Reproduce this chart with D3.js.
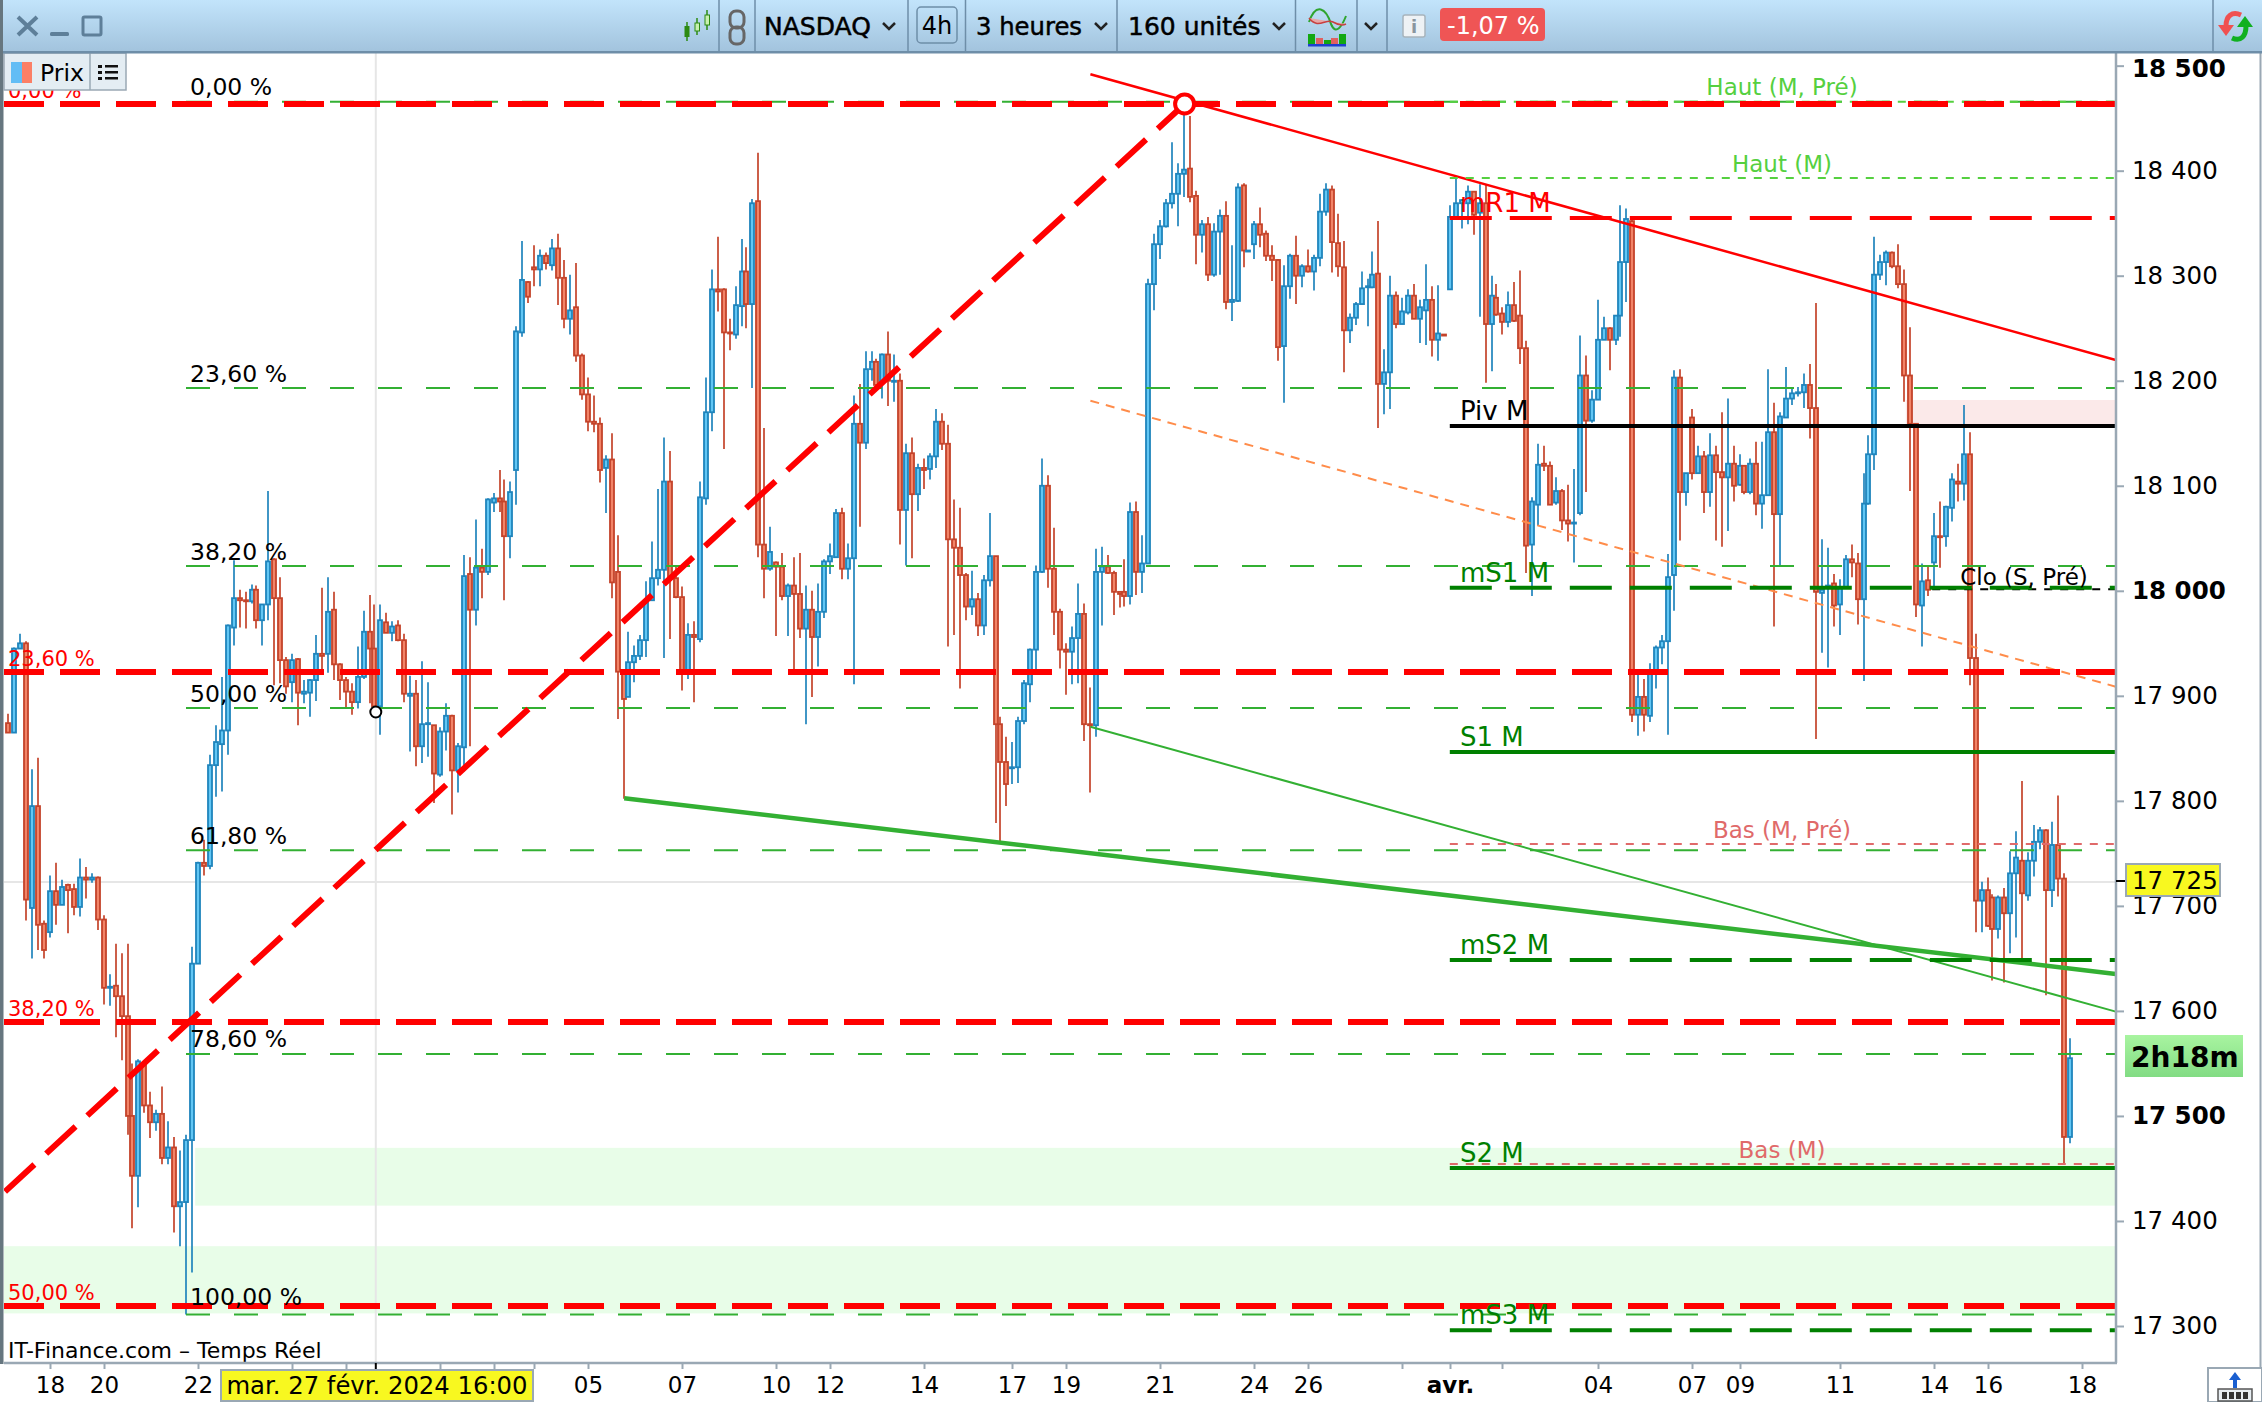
<!DOCTYPE html>
<html>
<head>
<meta charset="utf-8">
<title>NASDAQ 3 heures</title>
<script src="https://cdn.jsdelivr.net/npm/d3@7"></script>
<style>
  html, body { margin: 0; padding: 0; background: #fff; overflow: hidden; }
  svg { display: block; }
  text { font-family: "DejaVu Sans", sans-serif; }
</style>
</head>
<body>
<div id="chart"></div>
<script>
// candles (index points)
const opens = [
  17874,17865,17945,17950,17698,17795,17683,17675,17714,17701,
  17720,17716,17699,17727,17725,17727,17687,17622,17624,17614,
  17595,17500,17443,17550,17510,17494,17502,17460,17470,17414,
  17418,17477,17645,17741,17738,17834,17854,17867,17965,17993,
  17991,17990,18001,17972,17987,18030,17993,17934,17913,17935,
  17902,17903,17915,17940,17940,17982,17930,17915,17904,17894,
  17918,17961,17945,17890,17970,17960,17967,17953,17900,17902,
  17852,17873,17872,17825,17866,17881,17829,17851,18016,17982,
  18022,18018,18084,18088,18085,18052,18115,18246,18294,18308,
  18306,18319,18310,18326,18298,18259,18270,18224,18187,18161,
  18159,18117,18125,18018,17923,17899,17932,17938,17953,17991,
  18012,18020,18104,18012,17994,17923,17958,17954,18088,18170,
  18287,18287,18246,18244,18271,18304,18273,18371,18044,18021,
  18027,18023,17995,18005,17997,17964,17982,17956,17980,18028,
  18032,18074,18021,18031,18159,18141,18211,18218,18198,18225,
  18199,18200,18077,18131,18092,18117,18116,18128,18161,18140,
  18049,18041,18015,17985,17992,17967,18010,18033,17873,17837,
  17831,17832,17876,17911,17944,18018,18100,18021,17980,17944,
  17942,17955,17978,17873,17872,18018,18023,18017,17999,17999,
  17995,18075,18018,18026,18292,18330,18347,18369,18378,18397,
  18402,18376,18339,18349,18301,18342,18357,18275,18276,18386,
  18323,18330,18349,18340,18319,18315,18233,18290,18319,18300,
  18309,18304,18317,18361,18382,18331,18308,18248,18260,18273,
  18289,18289,18302,18197,18208,18281,18254,18265,18281,18259,
  18267,18277,18239,18244,18287,18356,18369,18369,18380,18360,
  18369,18254,18279,18264,18256,18272,18262,18231,18044,18082,
  18121,18119,18084,18095,18067,18064,18074,18205,18162,18182,
  18239,18250,18239,18262,18313,18352,17882,17899,17881,17922,
  17946,17952,18015,18203,18094,18165,18112,18128,18094,18129,
  18113,18108,18121,18101,18119,18094,18121,18083,18091,18151,
  18073,18165,18183,18188,18189,18196,18174,17998,18004,18007,
  17987,18003,18030,18026,17992,18083,18130,18301,18313,18322,
  18309,18292,18205,18159,17986,18010,18027,18052,18052,18079,
  18104,18102,18130,17936,17705,17715,17708,17678,17708,17693,
  17731,17743,17710,17743,17761,17772,17715,17758,17726,17480
];
const closes = [
  17865,17945,17950,17706,17795,17682,17658,17714,17701,17718,
  17715,17699,17727,17725,17727,17687,17622,17623,17614,17595,
  17500,17443,17552,17510,17494,17502,17460,17470,17414,17418,
  17477,17645,17741,17738,17834,17856,17867,17967,17993,17991,
  17990,18001,17972,17987,18028,17993,17934,17909,17934,17903,
  17904,17915,17940,17938,17980,17930,17915,17904,17894,17918,
  17961,17945,17890,17972,17960,17966,17953,17902,17902,17852,
  17873,17874,17826,17866,17881,17829,17852,18014,17982,18022,
  18018,18087,18088,18085,18052,18094,18247,18296,18280,18306,
  18319,18312,18326,18298,18259,18267,18224,18187,18161,18159,
  18115,18125,18008,17923,17897,17932,17938,17953,17991,18012,
  18020,18104,18012,17994,17923,17958,17956,18089,18170,18287,
  18285,18246,18245,18272,18304,18273,18369,18044,18021,18037,
  18023,17995,18005,17997,17964,17982,17956,17980,18028,18033,
  18074,18021,18031,18159,18141,18211,18218,18196,18225,18200,
  18200,18077,18131,18092,18117,18115,18128,18161,18140,18049,
  18041,18015,17985,17992,17967,18010,18033,17873,17837,17816,
  17832,17876,17912,17944,18018,18100,18021,17980,17944,17942,
  17955,17978,17873,17872,18018,18023,18017,17999,17997,17995,
  18075,18018,18026,18292,18330,18347,18369,18378,18397,18401,
  18375,18339,18349,18301,18342,18357,18275,18277,18384,18324,
  18324,18349,18339,18319,18315,18232,18290,18319,18300,18309,
  18304,18317,18361,18382,18332,18309,18248,18260,18273,18288,
  18290,18301,18197,18208,18281,18254,18266,18281,18259,18270,
  18277,18239,18245,18243,18356,18369,18372,18380,18358,18369,
  18254,18281,18263,18256,18272,18257,18231,18043,18085,18120,
  18119,18082,18095,18067,18064,18065,18205,18162,18182,18239,
  18250,18239,18262,18313,18354,17882,17899,17882,17922,17946,
  17952,18013,18203,18094,18112,18112,18128,18094,18129,18113,
  18108,18121,18100,18119,18094,18121,18083,18091,18151,18073,
  18166,18183,18188,18189,18196,18174,17999,18001,18005,17986,
  18003,18030,18027,17992,18083,18130,18301,18313,18322,18309,
  18292,18205,18159,17987,18009,18001,18052,18051,18080,18106,
  18102,18130,17936,17705,17715,17681,17678,17708,17693,17731,
  17746,17712,17743,17761,17772,17715,17758,17726,17480,17555
];
const highs = [
  17883,17946,17959,17952,17830,17841,17686,17729,17741,17725,
  17721,17721,17745,17737,17731,17728,17691,17635,17664,17655,
  17664,17550,17554,17552,17523,17506,17528,17495,17480,17467,
  17482,17661,17742,17763,17844,17872,17918,17968,18029,18001,
  17999,18006,18005,17987,18095,18031,18013,17937,17940,17936,
  17915,17916,17958,18003,18013,17999,17931,17918,17912,17947,
  17981,17996,17987,17987,17979,17971,17972,17959,17919,17915,
  17933,17913,17872,17870,17893,17882,17855,18034,18032,18068,
  18040,18088,18093,18115,18106,18104,18252,18333,18295,18329,
  18325,18322,18335,18340,18315,18301,18312,18226,18203,18186,
  18165,18129,18150,18053,17923,17961,17948,17958,18009,18047,
  18097,18146,18133,18023,18004,17969,17971,18104,18203,18306,
  18337,18288,18259,18290,18335,18327,18373,18417,18155,18061,
  18028,18036,18007,18032,18036,18005,18000,18007,18030,18045,
  18078,18079,18045,18186,18197,18228,18228,18221,18226,18247,
  18225,18207,18140,18146,18121,18126,18131,18173,18169,18158,
  18087,18079,18017,18019,17998,18015,18074,18033,17880,17861,
  17856,17880,17915,17945,18024,18126,18110,18060,17983,17950,
  17966,18007,17988,17908,18040,18042,18034,18019,17999,18030,
  18084,18085,18053,18297,18340,18353,18373,18427,18407,18455,
  18452,18381,18353,18356,18350,18363,18371,18329,18388,18388,
  18324,18352,18365,18343,18329,18316,18310,18321,18338,18311,
  18325,18320,18378,18388,18386,18359,18333,18264,18275,18304,
  18297,18323,18352,18230,18300,18285,18279,18287,18292,18277,
  18311,18290,18291,18244,18367,18393,18373,18386,18380,18387,
  18387,18300,18292,18270,18285,18294,18305,18238,18089,18140,
  18138,18123,18108,18097,18101,18116,18243,18224,18191,18277,
  18261,18251,18262,18367,18364,18354,17921,17916,17931,17948,
  17958,18035,18210,18211,18112,18173,18138,18133,18150,18138,
  18170,18183,18138,18130,18119,18126,18142,18142,18211,18179,
  18170,18213,18194,18194,18207,18216,18274,18049,18041,18016,
  18011,18034,18044,18036,18112,18148,18337,18320,18324,18323,
  18330,18306,18251,18159,18026,18023,18074,18085,18081,18112,
  18121,18177,18151,17959,17723,17727,17711,17710,17717,17752,
  17771,17819,17751,17777,17775,17773,17780,17805,17731,17574
];
const lows = [
  17865,17865,17945,17686,17650,17658,17650,17670,17682,17701,
  17674,17691,17690,17707,17722,17677,17606,17605,17575,17553,
  17482,17393,17413,17503,17479,17486,17454,17454,17389,17376,
  17311,17351,17645,17729,17735,17804,17809,17844,17948,17965,
  17964,17988,17964,17948,17972,17910,17912,17902,17894,17872,
  17893,17880,17895,17921,17922,17915,17896,17888,17882,17888,
  17916,17893,17890,17863,17960,17952,17952,17894,17847,17833,
  17836,17842,17798,17823,17848,17787,17808,17828,17852,17967,
  17993,18015,18075,18075,17991,18031,18082,18242,18274,18290,
  18290,18306,18305,18272,18250,18244,18218,18182,18152,18151,
  18103,18074,17993,17878,17802,17899,17913,17934,17937,17991,
  18005,17936,17954,17993,17905,17916,17894,17951,18082,18152,
  18266,18135,18229,18240,18252,18250,18193,18032,17993,18019,
  17957,17991,17957,17923,17955,17873,17899,17928,17974,18016,
  18032,18011,18011,17911,18061,18135,18200,18195,18183,18176,
  18180,18044,18024,18031,18076,18097,18106,18117,18134,17947,
  17958,17907,17972,17977,17957,17958,18004,17779,17761,17795,
  17816,17817,17873,17894,17925,18017,18003,17958,17926,17901,
  17911,17912,17857,17808,17861,17967,18016,17977,17984,17985,
  17987,17996,17998,18026,18267,18316,18346,18364,18347,18375,
  18370,18311,18322,18295,18299,18301,18268,18257,18275,18308,
  18323,18316,18327,18314,18295,18219,18179,18278,18273,18289,
  18303,18286,18309,18357,18303,18299,18208,18236,18253,18273,
  18252,18288,18155,18168,18173,18250,18254,18263,18259,18236,
  18234,18223,18219,18243,18287,18356,18345,18349,18339,18261,
  18198,18209,18262,18244,18251,18256,18216,18017,17995,18062,
  18114,18082,18082,18058,18047,18027,18072,18094,18160,18182,
  18239,18210,18234,18242,18275,17875,17862,17866,17875,17907,
  17930,17863,17981,18048,18081,18106,18112,18074,18080,18048,
  18042,18057,18085,18100,18092,18092,18072,18059,18091,17966,
  18023,18165,18177,18185,18174,18145,17859,17941,17927,17966,
  17958,18003,18013,17968,17914,18082,18115,18296,18291,18307,
  18288,18180,18095,17975,17947,17995,18003,18022,18042,18066,
  18085,18086,17910,17675,17675,17680,17629,17669,17627,17655,
  17670,17649,17705,17728,17754,17615,17699,17709,17454,17474
];
// candle positions where the time axis closes up a little
const sessionBreaks = [21, 42, 62, 84, 105, 125, 147, 168, 189, 210, 231, 252, 273, 294, 315, 336];

// axis
const priceTicks = [18500, 18400, 18300, 18200, 18100, 18000, 17900, 17800, 17700, 17600, 17500, 17400, 17300];
const dateTickIndex = [7, 16, 32, 48, 57, 73, 82, 89, 98, 114, 130, 139, 155, 170, 179, 195, 211, 220, 236, 244, 253, 269, 285, 293, 310, 326, 335, 351];
const dateTickLabels = ['18', '20', '22', '', '', '', '', '', '05', '07', '10', '12', '14', '17', '19', '21', '24', '26', '', 'avr.', '', '04', '07', '09', '11', '14', '16', '18'];

// fibonacci retracements
const fibGreenLevels = [18465.7, 18193, 18023.6, 17888.4, 17753, 17559, 17311];
const fibGreenLabels = ['0,00 %', '23,60 %', '38,20 %', '50,00 %', '61,80 %', '78,60 %', '100,00 %'];
const fibRedLevels = [18463.5, 17922.7, 17589.4, 17319];
const fibRedLabels = ['0,00 %', '23,60 %', '38,20 %', '50,00 %'];

// monthly pivots
const pivotNames = ['mR1 M', 'Piv M', 'mS1 M', 'S1 M', 'mS2 M', 'S2 M', 'mS3 M'];
const pivotLevels = [18355, 18156.9, 18003, 17846.5, 17648.5, 17450.4, 17296];
const pivotColors = ['#ff0000', '#000000', '#008000', '#008000', '#008000', '#008000', '#008000'];
const pivotDashed = [true, false, true, false, true, false, true];

// high / low of the month
const extremeNames = ['Haut (M, Pré)', 'Haut (M)', 'Bas (M, Pré)', 'Bas (M)'];
const extremeLevels = [18465.7, 18393, 17758.9, 17454.2];
const extremeColors = ['#55d040', '#55d040', '#e06a6a', '#e06a6a'];

// zones: slot range + price range
const greenZones = [[31.2, 351.3, 17469.6, 17414.6], [-0.7, 351.3, 17376, 17312]];
const pinkZone = [316.3, 351.3, 18181.7, 18156.9];

// drawn lines as [slot, price, slot, price]
const fibDiagonal = [-0.5, 17428, 196.1, 18463.5];
const redTrend = [180.4, 18491.8, 351.3, 18219.7];
const orangeTrend = [180.4, 18181, 351.3, 17908.7];
const greenThick = [102.7, 17802.4, 351.3, 17635.2];
const greenThin = [180.4, 17870.6, 351.3, 17599.3];
const closeWeek = [320.7, 18001.4, 351.3, 18001.4];
const lastPrice = 17722.8;
const cursorSlot = 61.3;

const width = 2262, height = 1402;
const plot = { left: 4, right: 2116, top: 53, bottom: 1363 };

function slotOf(i) {
  return i - sessionBreaks.filter(b => b <= i).length / 3;
}

const x = d3.scaleLinear().domain([0, slotOf(349)]).range([8, 2070]);
const y = d3.scaleLinear().domain([18000, 17300]).range([590.8, 1326]);

const svg = d3.select('#chart').append('svg')
  .attr('width', width).attr('height', height);

const defs = svg.append('defs');
const barGrad = defs.append('linearGradient').attr('id', 'bar').attr('x2', 0).attr('y2', 1);
barGrad.append('stop').attr('offset', 0).attr('stop-color', '#c2e4fb');
barGrad.append('stop').attr('offset', 1).attr('stop-color', '#a2c3dd');
const timerGrad = defs.append('linearGradient').attr('id', 'timer').attr('x2', 0).attr('y2', 1);
timerGrad.append('stop').attr('offset', 0).attr('stop-color', '#a8f4a0');
timerGrad.append('stop').attr('offset', 1).attr('stop-color', '#82dc84');
defs.append('clipPath').attr('id', 'plotClip').append('rect')
  .attr('x', plot.left).attr('y', plot.top)
  .attr('width', plot.right - plot.left).attr('height', plot.bottom - plot.top);

const g = svg.append('g').attr('clip-path', 'url(#plotClip)');

// zones
greenZones.forEach(z => {
  g.append('rect').attr('x', x(z[0])).attr('width', x(z[1]) - x(z[0]))
    .attr('y', y(z[2])).attr('height', y(z[3]) - y(z[2])).attr('fill', '#e8fde8');
});
g.append('rect').attr('x', x(pinkZone[0])).attr('width', x(pinkZone[1]) - x(pinkZone[0]))
  .attr('y', y(pinkZone[2])).attr('height', y(pinkZone[3]) - y(pinkZone[2])).attr('fill', '#fbe9e9');

// crosshair
g.append('line').attr('x1', x(cursorSlot)).attr('x2', x(cursorSlot))
  .attr('y1', plot.top).attr('y2', plot.bottom)
  .attr('stroke', '#e6e6e6').attr('stroke-width', 2);
g.append('line').attr('x1', plot.left).attr('x2', plot.right)
  .attr('y1', y(lastPrice)).attr('y2', y(lastPrice))
  .attr('stroke', '#e6e6e6').attr('stroke-width', 2);

// candles
const candles = opens.map((o, i) => ({ i, o, c: closes[i], h: highs[i], l: lows[i] }));
const isUp = d => d.c >= d.o;

g.selectAll('.wick').data(candles).enter().append('line')
  .attr('class', 'wick')
  .attr('x1', d => x(slotOf(d.i))).attr('x2', d => x(slotOf(d.i)))
  .attr('y1', d => y(d.h)).attr('y2', d => y(d.l))
  .attr('stroke', d => isUp(d) ? '#1f84bc' : '#c4432a')
  .attr('stroke-width', 1.7);

g.selectAll('.body').data(candles).enter().append('rect')
  .attr('class', 'body')
  .attr('x', d => x(slotOf(d.i)) - 2)
  .attr('width', 4)
  .attr('y', d => y(Math.max(d.o, d.c)))
  .attr('height', d => Math.abs(y(d.o) - y(d.c)))
  .attr('fill', d => isUp(d) ? '#62c6f4' : '#f28468')
  .attr('stroke', d => isUp(d) ? '#1f84bc' : '#c4432a')
  .attr('stroke-width', 1.8);

// fibonacci, green part
fibGreenLevels.forEach(v => {
  g.append('line').attr('x1', 186).attr('x2', plot.right).attr('y1', y(v)).attr('y2', y(v))
    .attr('stroke', '#33b033').attr('stroke-width', 2).attr('stroke-dasharray', '24 24');
});
svg.selectAll('.fibLabel').data(fibGreenLabels).enter().append('text')
  .attr('x', 190)
  .attr('y', (d, i) => y(fibGreenLevels[i]) - (i === 6 ? 9 : 6.5))
  .attr('font-size', 23.5).attr('fill', '#000').text(d => d);

function drawSegment(seg, color, w, dash) {
  return g.append('line')
    .attr('x1', x(seg[0])).attr('y1', y(seg[1]))
    .attr('x2', x(seg[2])).attr('y2', y(seg[3]))
    .attr('stroke', color).attr('stroke-width', w)
    .attr('stroke-dasharray', dash || null);
}

// trend lines
drawSegment(orangeTrend, '#ff8c4a', 2, '9 7');
drawSegment(redTrend, '#ff0000', 2.5);
drawSegment(greenThick, '#33b033', 4.5);
drawSegment(greenThin, '#33b033', 2);

// month highs and lows
extremeLevels.forEach((v, i) => {
  g.append('line').attr('x1', x(240.3)).attr('x2', plot.right).attr('y1', y(v)).attr('y2', y(v))
    .attr('stroke', extremeColors[i]).attr('stroke-width', 2).attr('stroke-dasharray', '8 8');
});
svg.selectAll('.extreme').data(extremeNames).enter().append('text')
  .attr('x', 1782).attr('text-anchor', 'middle')
  .attr('y', (d, i) => y(extremeLevels[i]) - 6.5)
  .attr('font-size', 23).attr('fill', (d, i) => extremeColors[i]).text(d => d);

drawSegment(closeWeek, '#000', 2, '8 8');
svg.append('text').attr('x', 2024).attr('y', 585).attr('text-anchor', 'middle')
  .attr('font-size', 23).attr('fill', '#000').text('Clo (S, Pré)');

// pivots
pivotLevels.forEach((v, i) => {
  g.append('line').attr('x1', x(240.3)).attr('x2', plot.right).attr('y1', y(v)).attr('y2', y(v))
    .attr('stroke', pivotColors[i]).attr('stroke-width', 4)
    .attr('stroke-dasharray', pivotDashed[i] ? '42 18' : null);
});
svg.selectAll('.pivot').data(pivotNames).enter().append('text')
  .attr('x', 1460).attr('y', (d, i) => y(pivotLevels[i]) - 6)
  .attr('font-size', 26).attr('fill', (d, i) => pivotColors[i]).text(d => d);

// fibonacci, red part
const redGroup = svg.append('g');
redGroup.selectAll('text').data(fibRedLabels).enter().append('text')
  .attr('x', 8).attr('y', (d, i) => y(fibRedLevels[i]) - 6)
  .attr('font-size', 21).attr('fill', '#ff0000').text(d => d);
fibRedLevels.forEach(v => {
  g.append('line').attr('x1', plot.left).attr('x2', plot.right).attr('y1', y(v)).attr('y2', y(v))
    .attr('stroke', '#ff0000').attr('stroke-width', 6).attr('stroke-dasharray', '40 16');
});
drawSegment(fibDiagonal, '#ff0000', 6, '40 16');
g.append('circle').attr('cx', x(fibDiagonal[2])).attr('cy', y(fibDiagonal[3])).attr('r', 9.5)
  .attr('fill', '#fff').attr('stroke', '#ff0000').attr('stroke-width', 4);

// small marker on the crosshair
g.append('circle').attr('cx', x(cursorSlot)).attr('cy', 712).attr('r', 5.5)
  .attr('fill', '#fff').attr('stroke', '#000').attr('stroke-width', 2);

svg.append('text').attr('x', 8).attr('y', 1358).attr('font-size', 22).attr('fill', '#000')
  .text('IT-Finance.com – Temps Réel');

// price axis
const yAxis = svg.append('g').attr('transform', `translate(${plot.right},0)`)
  .call(d3.axisRight(y).tickValues(priceTicks).tickSize(8).tickPadding(8)
    .tickFormat(d => String(d).slice(0, 2) + ' ' + String(d).slice(2)));
yAxis.select('.domain').remove();
yAxis.selectAll('.tick line').attr('stroke', '#9aa8b4').attr('stroke-width', 2);
yAxis.selectAll('.tick text').attr('fill', '#000').attr('font-size', 24.5)
  .attr('font-family', '"DejaVu Sans"')
  .attr('font-weight', d => d % 500 === 0 ? 'bold' : 'normal')
  .attr('transform', d => d === 18500 ? 'translate(0,2.5)' : null);
svg.append('line').attr('x1', plot.right).attr('x2', plot.right).attr('y1', plot.top).attr('y2', plot.bottom)
  .attr('stroke', '#9aa8b4').attr('stroke-width', 2.5);
svg.append('line').attr('x1', width - 1.5).attr('x2', width - 1.5).attr('y1', plot.top).attr('y2', 1368)
  .attr('stroke', '#9aa8b4').attr('stroke-width', 2);

// date axis
const xAxis = svg.append('g').attr('transform', `translate(0,${plot.bottom})`)
  .call(d3.axisBottom(x)
    .tickValues(dateTickIndex.map(slotOf))
    .tickSize(6).tickPadding(8)
    .tickFormat((d, i) => dateTickLabels[i]));
xAxis.select('.domain').remove();
xAxis.selectAll('.tick line').attr('stroke', '#9aa8b4').attr('stroke-width', 2);
xAxis.selectAll('.tick text').attr('fill', '#000').attr('font-size', 23)
  .attr('font-family', '"DejaVu Sans"')
  .attr('font-weight', (d, i) => dateTickLabels[i] === 'avr.' ? 'bold' : 'normal');
svg.append('line').attr('x1', plot.left).attr('x2', plot.right + 1).attr('y1', plot.bottom).attr('y2', plot.bottom)
  .attr('stroke', '#9aa8b4').attr('stroke-width', 2.5);
svg.append('line').attr('x1', x(cursorSlot)).attr('x2', x(cursorSlot)).attr('y1', plot.bottom).attr('y2', plot.bottom + 6)
  .attr('stroke', '#000').attr('stroke-width', 2);

// cursor date label
svg.append('rect').attr('x', 221).attr('y', 1370).attr('width', 312).attr('height', 31)
  .attr('fill', '#f8f820').attr('stroke', '#9aa8b4').attr('stroke-width', 2);
svg.append('text').attr('x', 377).attr('y', 1394).attr('text-anchor', 'middle')
  .attr('font-size', 24.3).attr('fill', '#000').text('mar. 27 févr. 2024 16:00');

// last price label
svg.append('line').attr('x1', plot.right).attr('x2', 2126).attr('y1', 881).attr('y2', 881)
  .attr('stroke', '#000').attr('stroke-width', 2);
svg.append('rect').attr('x', 2126).attr('y', 864).attr('width', 94).attr('height', 32)
  .attr('fill', '#f8f820').attr('stroke', '#9aa8b4').attr('stroke-width', 2);
svg.append('text').attr('x', 2132).attr('y', 889).attr('font-size', 24.5).attr('fill', '#000').text('17 725');

// countdown
svg.append('rect').attr('x', 2125).attr('y', 1035).attr('width', 118).attr('height', 42).attr('fill', 'url(#timer)');
svg.append('text').attr('x', 2131).attr('y', 1067).attr('font-size', 28).attr('font-weight', 'bold').attr('fill', '#000').text('2h18m');

// corner icon
svg.append('rect').attr('x', 2208).attr('y', 1368).attr('width', 54).attr('height', 34)
  .attr('fill', '#fff').attr('stroke', '#9aa8b4').attr('stroke-width', 2);
svg.append('path').attr('d', 'M2235 1372l-6 8h4v8h4v-8h4z').attr('fill', '#1a5fd0');
svg.append('rect').attr('x', 2218).attr('y', 1389).attr('width', 34).attr('height', 12)
  .attr('fill', '#e8eef2').attr('stroke', '#555').attr('stroke-width', 1.5);
d3.range(4).forEach(k => {
  svg.append('rect').attr('x', 2222 + k * 7).attr('y', 1392).attr('width', 5).attr('height', 7).attr('fill', '#333');
});

// left strip
svg.append('rect').attr('x', 0).attr('y', 0).attr('width', 3.5).attr('height', 1364).attr('fill', '#66767f');

// legend box
svg.append('rect').attr('x', 4).attr('y', 53).attr('width', 122).attr('height', 37)
  .attr('fill', '#e4edf3').attr('stroke', '#9aa8b4').attr('stroke-width', 1.5);
svg.append('line').attr('x1', 90).attr('x2', 90).attr('y1', 53).attr('y2', 90).attr('stroke', '#9aa8b4').attr('stroke-width', 1.5);
svg.append('rect').attr('x', 11).attr('y', 62).attr('width', 11).attr('height', 21).attr('fill', '#62bdf5');
svg.append('rect').attr('x', 22).attr('y', 62).attr('width', 10).attr('height', 21).attr('fill', '#fb7f66');
svg.append('text').attr('x', 40).attr('y', 81).attr('font-size', 23.5).attr('fill', '#000').text('Prix');
[66, 72, 78].forEach(ly => {
  svg.append('rect').attr('x', 98).attr('y', ly - 1).attr('width', 4).attr('height', 3).attr('fill', '#111');
  svg.append('rect').attr('x', 105).attr('y', ly - 1).attr('width', 13).attr('height', 2.5).attr('fill', '#111');
});

// toolbar
const bar = svg.append('g');
bar.append('rect').attr('x', 3).attr('y', 0).attr('width', width - 3).attr('height', 52).attr('fill', 'url(#bar)');
bar.append('rect').attr('x', 3).attr('y', 51).attr('width', width - 3).attr('height', 2.5).attr('fill', '#6e8ea8');
[719, 755, 908, 965.5, 1117, 1295.5, 1357, 1387, 2213].forEach(sx => {
  bar.append('line').attr('x1', sx).attr('x2', sx).attr('y1', 0).attr('y2', 52).attr('stroke', '#6e8ea8').attr('stroke-width', 1.5);
});
// window buttons
bar.append('path').attr('d', 'M18 17L37 35M37 17L18 35').attr('stroke', '#5e7f99').attr('stroke-width', 4).attr('fill', 'none');
bar.append('rect').attr('x', 50).attr('y', 32).attr('width', 19).attr('height', 4).attr('rx', 1.5).attr('fill', '#5e7f99');
bar.append('rect').attr('x', 83).attr('y', 17).attr('width', 18).attr('height', 18).attr('rx', 1.5)
  .attr('fill', 'none').attr('stroke', '#5e7f99').attr('stroke-width', 3);
// candle icon
bar.append('path').attr('d', 'M687 22V41M697 18V35M707 10V30').attr('stroke', '#2d8a12').attr('stroke-width', 1.5);
bar.append('rect').attr('x', 684.5).attr('y', 26).attr('width', 5).attr('height', 11).attr('fill', '#2d8a12');
bar.append('rect').attr('x', 695).attr('y', 23).attr('width', 4.5).attr('height', 8).attr('fill', '#c8f0b0').attr('stroke', '#2d8a12');
bar.append('rect').attr('x', 705).attr('y', 15).attr('width', 4.5).attr('height', 10).attr('fill', '#c8f0b0').attr('stroke', '#2d8a12');
// chain icon
bar.append('rect').attr('x', 730).attr('y', 11).attr('width', 14).attr('height', 17).attr('rx', 6).attr('fill', 'none').attr('stroke', '#666').attr('stroke-width', 3);
bar.append('rect').attr('x', 730).attr('y', 27).attr('width', 14).attr('height', 17).attr('rx', 6).attr('fill', 'none').attr('stroke', '#666').attr('stroke-width', 3);

function chevron(cx) {
  bar.append('path').attr('d', `M${cx - 6} 23L${cx} 29L${cx + 6} 23`)
    .attr('fill', 'none').attr('stroke', '#222').attr('stroke-width', 2.5);
}
function toolbarText(tx, label, size) {
  bar.append('text').attr('x', tx).attr('y', 35).attr('font-size', size).attr('fill', '#000')
    .attr('stroke', '#000').attr('stroke-width', 0.5).text(label);
}
toolbarText(764, 'NASDAQ', 25);
chevron(889);
bar.append('rect').attr('x', 917).attr('y', 7).attr('width', 40).attr('height', 36).attr('rx', 4)
  .attr('fill', 'none').attr('stroke', '#6e8ea8').attr('stroke-width', 1.5);
bar.append('text').attr('x', 937).attr('y', 34).attr('text-anchor', 'middle').attr('font-size', 24).attr('fill', '#000').text('4h');
toolbarText(976, '3 heures', 24.3);
chevron(1101);
toolbarText(1128, '160 unités', 25);
chevron(1279);
// indicator icon
bar.append('path').attr('d', 'M1309 22C1316 2 1326 8 1331 24C1336 36 1342 26 1346 16').attr('fill', 'none').attr('stroke', '#2fa52f').attr('stroke-width', 2);
bar.append('path').attr('d', 'M1309 18C1318 30 1326 18 1333 22C1338 25 1342 26 1346 24').attr('fill', '#e8a8a8').attr('stroke', '#c84040').attr('stroke-width', 1.5);
bar.append('rect').attr('x', 1308).attr('y', 44).attr('width', 38).attr('height', 2.5).attr('fill', '#1f3fd0');
[[1308, 10, '#12a812'], [1316, 6, '#e06060'], [1324, 4, '#12a812'], [1331, 6, '#e06060'], [1339, 10, '#12a812']].forEach(b => {
  bar.append('rect').attr('x', b[0]).attr('y', 44 - b[1]).attr('width', 7).attr('height', b[1]).attr('fill', b[2]);
});
chevron(1371);
// info icon
bar.append('rect').attr('x', 1403).attr('y', 15).attr('width', 22).attr('height', 22).attr('rx', 2).attr('fill', '#eef2f5').attr('stroke', '#a8b4bc').attr('stroke-width', 1.5);
bar.append('text').attr('x', 1414).attr('y', 33).attr('text-anchor', 'middle').attr('font-size', 18).attr('font-weight', 'bold').attr('fill', '#8a969e').text('i');
// variation
bar.append('rect').attr('x', 1440).attr('y', 8).attr('width', 105).attr('height', 33).attr('rx', 4).attr('fill', '#ef5555');
bar.append('text').attr('x', 1447).attr('y', 34).attr('font-size', 24).attr('fill', '#fff').text('-1,07 %');
// refresh icon
bar.append('path').attr('d', 'M2241 15C2232 11 2226 16 2226 26').attr('fill', 'none').attr('stroke', '#f05050').attr('stroke-width', 5);
bar.append('path').attr('d', 'M2218 25L2234 25L2226 36Z').attr('fill', '#f05050');
bar.append('path').attr('d', 'M2232 38C2241 42 2246 36 2246 26').attr('fill', 'none').attr('stroke', '#10b020').attr('stroke-width', 5);
bar.append('path').attr('d', 'M2237 27L2253 27L2245 16Z').attr('fill', '#10b020');
</script>
</body>
</html>
